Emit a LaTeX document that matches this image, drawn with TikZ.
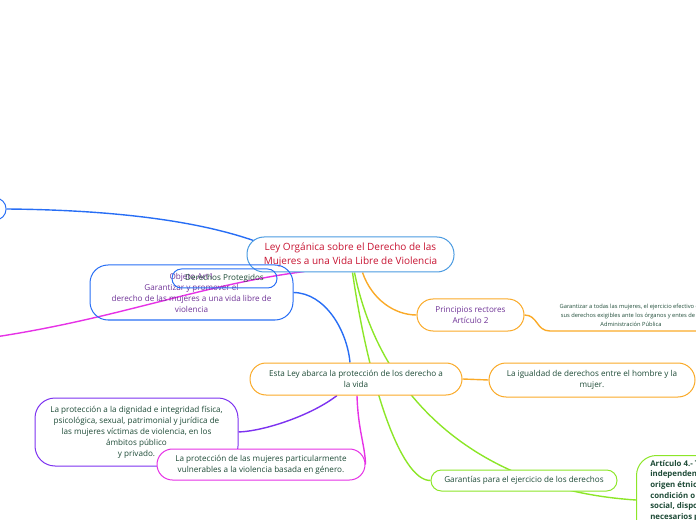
\documentclass[tikz,border=0pt]{standalone}
\usepackage{fontspec}
\setmainfont{Open Sans}
\usetikzlibrary{calc}
\definecolor{cblue}{RGB}{40,110,245}
\definecolor{clblue}{RGB}{75,155,225}
\definecolor{corange}{RGB}{250,170,40}
\definecolor{cgreen}{RGB}{140,230,40}
\definecolor{cviolet}{RGB}{125,50,240}
\definecolor{cmag}{RGB}{230,50,230}
\definecolor{cred}{RGB}{200,20,50}
\definecolor{cdg}{RGB}{30,75,55}
\definecolor{cpurple}{RGB}{110,50,150}
\pgfdeclarelayer{bg}
\pgfsetlayers{bg,main}
\tikzset{
  box/.style={draw, line width=0.75pt, rounded corners=#1, fill=white, align=center, inner sep=0pt},
  conn/.style={line width=1.05pt},
  ftn/.style={font=\fontsize{6.1}{8.25}\selectfont},
}
\begin{document}
\begin{tikzpicture}[x=0.75pt,y=-0.75pt]
\useasboundingbox (0,0) rectangle (696,520);
% nodes
\node[box=8pt, draw=cblue, minimum width=75pt, minimum height=16.5pt] (leftA) at (-44,209) {};
\coordinate (offL) at (-5,337);
\node[box=12.75pt, draw=clblue, minimum width=155.25pt, minimum height=26.25pt, text=cred, font=\fontsize{7.5}{10.5}\selectfont] (central) at (350.5,254.5) {Ley Orgánica sobre el Derecho de las\\Mujeres a una Vida Libre de Violencia};
\node[box=13.5pt, fill=none, draw=cblue, minimum width=152.25pt, minimum height=41.25pt, text=cpurple, ftn] (objeto) at (191.5,292.5) {Objeto Art1\\Garantizar y promover el\\derecho de las mujeres a una vida libre de\\violencia};
\node[box=7pt, fill=none, draw=cblue, minimum width=78.75pt, minimum height=14.25pt, text=cdg, ftn] (derechos) at (224.5,278.5) {Derechos Protegidos};
\node[box=12pt, draw=corange, minimum width=80.25pt, minimum height=24pt, text=cpurple, font=\fontsize{6.1}{8.7}\selectfont] (principios) at (470.5,315) {Principios rectores\\Artículo 2};
\node[align=center, inner sep=0pt, text=cdg, font=\fontsize{4.3}{6.75}\selectfont] (garant) at (631,315) {Garantizar a todas las mujeres, el ejercicio efectivo de\\sus derechos exigibles ante los órganos y entes de la\\Administración Pública};
\coordinate (ul1) at (550,331);
\coordinate (ul2) at (700,331);
\node[box=12pt, draw=corange, minimum width=159pt, minimum height=24pt, text=cdg, ftn] (estaley) at (356,379) {Esta Ley abarca la protección de los derecho a\\la vida};
\node[box=12.75pt, draw=corange, minimum width=154.5pt, minimum height=25.5pt, text=cdg, ftn] (igualdad) at (592,380) {La igualdad de derechos entre el hombre y la\\mujer.};
\node[box=15pt, draw=cviolet, minimum width=152.25pt, minimum height=51pt, text=cdg, ftn] (dignidad) at (136.5,432) {La protección a la dignidad e integridad física,\\psicológica, sexual, patrimonial y jurídica de\\las mujeres víctimas de violencia, en los\\ámbitos público\\y privado.};
\node[box=11.6pt, draw=cmag, minimum width=156pt, minimum height=23.25pt, text=cdg, ftn] (vulnerables) at (261,464.5) {La protección de las mujeres particularmente\\vulnerables a la violencia basada en género.};
\node[box=7.8pt, draw=cgreen, minimum width=139.5pt, minimum height=15.75pt, text=cdg, ftn] (garantias) at (524,480.5) {Garantías para el ejercicio de los derechos};
\node[box=15pt, draw=cgreen, minimum width=250pt, minimum height=120pt, anchor=north west] (art4) at (636,455) {};
\node[anchor=north west, align=left, inner sep=0pt, text=cdg, font=\bfseries\fontsize{5.9}{8}\selectfont] (art4text) at (650,460) {Artículo 4.- Todas las mujeres con\\independencia de su nacionalidad,\\origen étnico, religión o cualquier otra\\condición o circunstancia personal, jurídica o\\social, dispondrán de los mecanismos\\necesarios para hacer efectivos los derechos};
% connectors
\begin{pgfonlayer}{bg}
\draw[conn, cblue] (leftA.east) .. controls (120,210) and (200,222) .. ($(central.north west)+(7,4)$);
\draw[conn, cmag] (offL) .. controls (120,318) and (200,285) .. ($(central.south west)+(58,-1)$);
\draw[conn, cblue] (objeto.east) .. controls (325,293) and (347,330) .. ($(estaley.north)+(-6,0)$);
\draw[conn, corange] ($(central.south)+(12,0)$) .. controls (372,300) and (395,315) .. (principios.west);
\draw[conn, corange] (principios.east) .. controls (538,315) and (536,331) .. (ul1) -- (ul2);
\draw[conn, cgreen] ($(central.south)+(2,0)$) .. controls (368,380) and (400,481) .. (garantias.west);
\draw[conn, cgreen] ($(central.south)+(4,0)$) .. controls (380,400) and (480,490) .. ($(art4.north west)+(0,45)$);
\draw[conn, corange] (estaley.east) -- (igualdad.west);
\draw[conn, cviolet] ($(estaley.south)+(-19,0)$) .. controls (312,415) and (265,431) .. (dignidad.east);
\draw[conn, cmag] ($(estaley.south)+(1,0)$) .. controls (358,430) and (365,445) .. (vulnerables.east);
\end{pgfonlayer}
\end{tikzpicture}
\end{document}
